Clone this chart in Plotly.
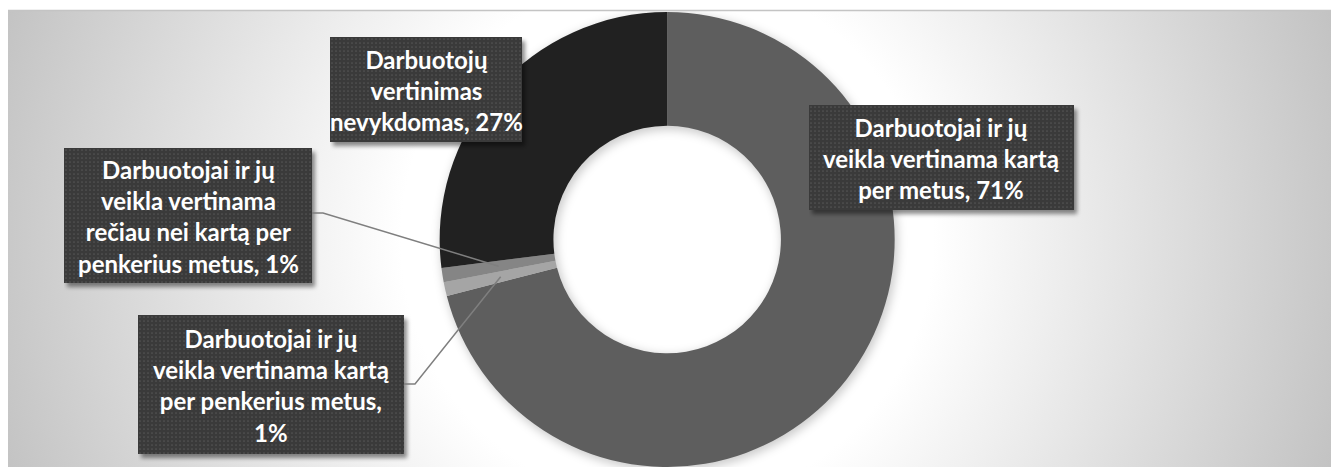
import base64
import math
import plotly.graph_objects as go

W, H = 1331, 467

# ---- data -------------------------------------------------------------
categories = [
    "Darbuotojai ir jų veikla vertinama kartą per metus",
    "Darbuotojai ir jų veikla vertinama kartą per penkerius metus",
    "Darbuotojai ir jų veikla vertinama rečiau nei kartą per penkerius metus",
    "Darbuotojų vertinimas nevykdomas",
]
shares = [71, 1, 1, 27]
label_templates = [
    "Darbuotojai ir jų<br>veikla vertinama kartą<br>per metus, {v}%",
    "Darbuotojai ir jų<br>veikla vertinama kartą<br>per penkerius metus,<br>{v}%",
    "Darbuotojai ir jų<br>veikla vertinama<br>rečiau nei kartą per<br>penkerius metus, {v}%",
    "Darbuotojų<br>vertinimas<br>nevykdomas, {v}%",
]

# ---- style ------------------------------------------------------------
slice_colors = ["#5e5e5e", "#a5a5a5", "#858585", "#212121"]
HOLE = 0.5
FONT = "Lato"
FONT_SIZE = 24

# label boxes in pixels: (left, top, right, bottom)
boxes = [
    (809, 105, 1074, 210),
    (138, 315, 404, 454),
    (64, 148, 312, 283),
    (330, 37, 522, 142),
]
# slices whose label is tied to the ring with a leader line, and the
# height (px) at which each line leaves its box
leader_rows = {1: 384, 2: 213}

# pie domain in paper units (full-size plot area, no margins)
dom_x = [0.0025, 1.0]
dom_y = [0.0, (H - 12) / H]

# geometry of the ring as plotly lays it out
cx = W * (dom_x[0] + dom_x[1]) / 2
r_out = min(W * (dom_x[1] - dom_x[0]), H * (dom_y[1] - dom_y[0])) / 2
cy = H * (1 - dom_y[0]) - H * (dom_y[1] - dom_y[0]) / 2
r_in = r_out * HOLE
r_mid = (r_out + r_in) / 2


def px_to_paper(x, y):
    return x / W, 1 - y / H


def svg_uri(svg):
    return "data:image/svg+xml;base64," + base64.b64encode(svg.encode("utf-8")).decode("ascii")


# ---- background: radial grey gradient + soft shadow under the ring ------
area_x0, area_y0 = 8, 10
area_w, area_h = W - area_x0, H - area_y0
bg_svg = f"""<svg xmlns="http://www.w3.org/2000/svg" width="{area_w}" height="{area_h}" viewBox="0 0 {area_w} {area_h}">
<defs>
<radialGradient id="g" gradientUnits="userSpaceOnUse" cx="{cx - area_x0:.1f}" cy="{cy - area_y0:.1f}" r="700">
<stop offset="0" stop-color="#ffffff"/>
<stop offset="0.38" stop-color="#ffffff"/>
<stop offset="1" stop-color="#c3c3c3"/>
</radialGradient>
<filter id="b" x="-20%" y="-20%" width="140%" height="140%"><feGaussianBlur stdDeviation="5"/></filter>
</defs>
<rect width="{area_w}" height="{area_h}" fill="url(#g)"/>
<circle cx="{cx - area_x0 + 2:.1f}" cy="{cy - area_y0 + 3:.1f}" r="{r_mid:.1f}" fill="none"
 stroke="#000" stroke-opacity="0.2" stroke-width="{r_out - r_in + 2:.1f}" filter="url(#b)"/>
</svg>"""

images = []
bx, by = px_to_paper(area_x0, area_y0)
images.append(dict(
    source=svg_uri(bg_svg), xref="paper", yref="paper",
    x=bx, y=by, sizex=area_w / W, sizey=area_h / H,
    xanchor="left", yanchor="top", sizing="stretch", layer="below",
))


# ---- label boxes: dotted dark fill with a soft drop shadow -------------
def box_svg(w, h, pad=9):
    return f"""<svg xmlns="http://www.w3.org/2000/svg" width="{w + pad}" height="{h + pad}" viewBox="0 0 {w + pad} {h + pad}">
<defs>
<filter id="s" x="-10%" y="-10%" width="130%" height="130%"><feGaussianBlur stdDeviation="2.2"/></filter>
<pattern id="p" width="4" height="4" patternUnits="userSpaceOnUse">
<rect width="4" height="4" fill="#3a3a3a"/><circle cx="2" cy="2" r="0.85" fill="#545454"/>
</pattern>
</defs>
<rect x="3" y="4" width="{w}" height="{h}" fill="#000" fill-opacity="0.45" filter="url(#s)"/>
<rect x="0" y="0" width="{w}" height="{h}" fill="url(#p)"/>
</svg>"""


PAD = 9
for (l, t, r, b) in boxes:
    w, h = r - l, b - t
    px, py = px_to_paper(l, t)
    images.append(dict(
        source=svg_uri(box_svg(w, h, PAD)), xref="paper", yref="paper",
        x=px, y=py, sizex=(w + PAD) / W, sizey=(h + PAD) / H,
        xanchor="left", yanchor="top", sizing="stretch", layer="above",
    ))

# ---- annotations (label text) -----------------------------------------
annotations = []
for i, (l, t, r, b) in enumerate(boxes):
    ax, ay = px_to_paper((l + r) / 2, (t + b) / 2 + 1)
    text = "<br>".join(f"<b>{s}</b>" for s in label_templates[i].format(v=shares[i]).split("<br>"))
    annotations.append(dict(
        text=text,
        xref="paper", yref="paper", x=ax, y=ay,
        xanchor="center", yanchor="middle", align="center",
        showarrow=False,
        font=dict(family=FONT, size=FONT_SIZE, color="#ffffff"),
    ))

# ---- leader lines from the box edge to the middle of the slice ----------
shapes = []
total = sum(shares)
cum = 0.0
mid_angles = []
for v in shares:
    mid_angles.append(360.0 * (cum + v / 2) / total)
    cum += v

for i, sy in leader_rows.items():
    l, t, r, b = boxes[i]
    ang = math.radians(mid_angles[i])
    ex = cx + r_mid * math.sin(ang)
    ey = cy - r_mid * math.cos(ang)
    pts = [(r, sy), (r + 11, sy), (ex, ey)]
    path = "M " + " L ".join(f"{x / W:.5f},{1 - y / H:.5f}" for x, y in pts)
    shapes.append(dict(
        type="path", path=path, xref="paper", yref="paper",
        line=dict(color="#7f7f7f", width=1.5), layer="above",
    ))

# thin frame line along the top of the chart area
shapes.append(dict(
    type="line", xref="paper", yref="paper",
    x0=area_x0 / W, x1=1, y0=1 - (area_y0 + 0.5) / H, y1=1 - (area_y0 + 0.5) / H,
    line=dict(color="#c4c4c4", width=1.5), layer="below",
))

# ---- figure -----------------------------------------------------------
fig = go.Figure(go.Pie(
    labels=categories,
    values=shares,
    hole=HOLE,
    sort=False,
    direction="clockwise",
    rotation=0,
    marker=dict(colors=slice_colors, line=dict(width=0)),
    textinfo="none",
    domain=dict(x=dom_x, y=dom_y),
    showlegend=False,
))

fig.update_layout(
    width=W, height=H,
    margin=dict(l=0, r=0, t=0, b=0),
    paper_bgcolor="#ffffff",
    plot_bgcolor="rgba(0,0,0,0)",
    images=images,
    annotations=annotations,
    shapes=shapes,
    showlegend=False,
)

fig.write_html("out.html", config=dict(displayModeBar=False))
